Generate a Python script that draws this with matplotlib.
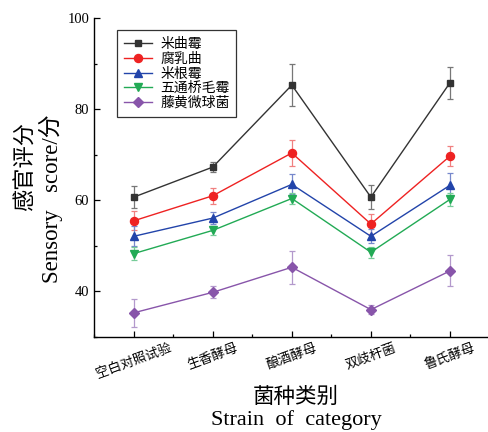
import numpy as np
import matplotlib
matplotlib.use("Agg")
from matplotlib import pyplot as plt
from matplotlib.ticker import MultipleLocator

# data
categories = ["空白对照试验", "生香酵母", "酿酒酵母", "双歧杆菌", "鲁氏酵母"]
names = ["米曲霉", "腐乳曲", "米根霉", "五通桥毛霉", "藤黄微球菌"]

mqm = [60.7, 67.3, 85.3, 60.7, 85.8]
mqm_err = [2.4, 1.1, 4.6, 2.7, 3.5]
frq = [55.5, 61.0, 70.4, 54.8, 69.7]
frq_err = [2.1, 1.7, 2.8, 2.1, 2.2]
mgm = [52.1, 56.1, 63.5, 52.1, 63.3]
mgm_err = [2.2, 1.3, 2.2, 1.5, 2.8]
wtq = [48.3, 53.4, 60.4, 48.6, 60.2]
wtq_err = [1.5, 1.0, 1.2, 1.2, 1.5]
thw = [35.3, 39.8, 45.3, 36.0, 44.5]
thw_err = [3.1, 1.3, 3.6, 1.0, 3.4]

series = [mqm, frq, mgm, wtq, thw]
errs = [mqm_err, frq_err, mgm_err, wtq_err, thw_err]
colors = ["#333333", "#ee2222", "#2244aa", "#22aa55", "#8855aa"]
errcolors = ["#777777", "#f08080", "#7788cc", "#77cc99", "#b399cc"]
markers = ["s", "o", "^", "v", "D"]
msizes = [5, 5.8, 5.5, 5.5, 4.8]

cjk = ["Noto Sans CJK SC", "DejaVu Sans"]
serif = ["Liberation Serif", "DejaVu Serif"]

fig = plt.figure(figsize=(4.88, 4.32), dpi=100)
ax = fig.add_axes([0.193, 0.22, 0.81, 0.738])

x = np.arange(1, len(categories) + 1)
for i in range(len(series)):
  ax.errorbar(x, series[i], yerr=errs[i], fmt="none", ecolor=errcolors[i],
              elinewidth=0.9, capsize=2.5, capthick=0.9, zorder=2)
  ax.plot(x, series[i], color=colors[i], marker=markers[i], markersize=msizes[i],
          linewidth=1.0, label=names[i], zorder=3)

ax.set_xlim(0.5, 5.5)
ax.set_ylim(30, 100)
ax.yaxis.set_major_locator(MultipleLocator(20))
ax.yaxis.set_minor_locator(MultipleLocator(10))
ax.xaxis.set_minor_locator(MultipleLocator(0.5))
ax.set_xticks(x)
ax.set_xticklabels(categories, rotation=20, family=cjk, fontsize=9.5)
for t in ax.get_yticklabels():
  t.set_family(serif)
  t.set_fontsize(10.5)
ax.tick_params(direction="in", length=4, width=0.9)
ax.tick_params(which="minor", direction="in", length=2.5, width=0.9)
ax.spines["top"].set_visible(False)
ax.spines["right"].set_visible(False)
for s in ["left", "bottom"]:
  ax.spines[s].set_linewidth(1.0)

leg = ax.legend(loc="upper left", bbox_to_anchor=(0.058, 0.962), prop={"family": cjk, "size": 10},
                frameon=True, fancybox=False, edgecolor="black", handlelength=2.0,
                labelspacing=0.05, borderpad=0.5, handletextpad=0.6, borderaxespad=0)
leg.get_frame().set_linewidth(0.9)

# axis titles, two lines each
fig.text(0.052, 0.615, "感官评分", rotation=90, ha="center", va="center", family=cjk, fontsize=16)
fig.text(0.105, 0.54, "Sensory   score/分", rotation=90, ha="center", va="center",
         family=["Liberation Serif", "Noto Sans CJK SC"], fontsize=16.5)
fig.text(0.607, 0.082, "菌种类别", ha="center", va="center", family=cjk, fontsize=15.5)
fig.text(0.607, 0.028, "Strain  of  category", ha="center", va="center", family=serif, fontsize=16)

fig.savefig("out.png", dpi=100)
